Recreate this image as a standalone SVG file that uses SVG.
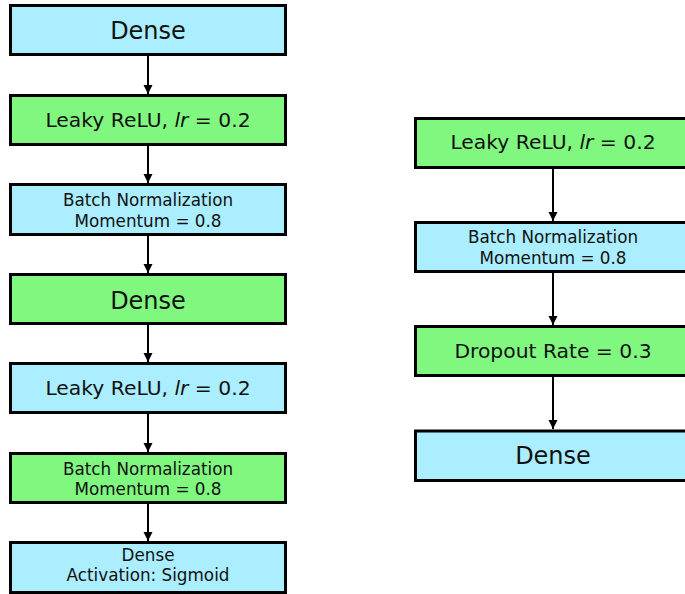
<svg xmlns="http://www.w3.org/2000/svg" width="685" height="594" viewBox="0 0 685 594">
  <style>
    .box { stroke: #000; stroke-width: 3; }
    .blue { fill: #aaeeff; }
    .green { fill: #80f880; }
    text { font-family: "DejaVu Sans", "Liberation Sans", sans-serif; fill: #111; text-anchor: middle; }
    .big { font-size: 24px; }
    .mid { font-size: 20.3px; }
    .small { font-size: 16.8px; }
    .conn { stroke: #000; stroke-width: 2; fill: none; marker-end: url(#arrow); }
  </style>
  <defs>
    <marker id="arrow" markerWidth="10" markerHeight="10" refX="9" refY="4.5" orient="auto" markerUnits="userSpaceOnUse">
      <path d="M0,0 L9,4.5 L0,9 Z" fill="#000"/>
    </marker>
  </defs>

  <rect width="685" height="594" fill="#fff"/>

  <!-- connectors -->
  <g id="connectors">
    <line class="conn" x1="148" y1="56" x2="148" y2="94"/>
    <line class="conn" x1="148" y1="146" x2="148" y2="183"/>
    <line class="conn" x1="148" y1="235" x2="148" y2="273"/>
    <line class="conn" x1="148" y1="325" x2="148" y2="362"/>
    <line class="conn" x1="148" y1="414" x2="148" y2="452"/>
    <line class="conn" x1="148" y1="504" x2="148" y2="541"/>
    <line class="conn" x1="553" y1="168" x2="553" y2="221"/>
    <line class="conn" x1="553" y1="273" x2="553" y2="325"/>
    <line class="conn" x1="553" y1="377" x2="553" y2="429"/>
  </g>

  <!-- left column -->
  <g id="dense1">
    <rect class="box blue" x="10.5" y="5.5" width="275" height="49"/>
    <text class="big" x="148" y="39">Dense</text>
  </g>
  <g id="leaky1">
    <rect class="box green" x="10.5" y="95.5" width="275" height="49"/>
    <text class="mid" x="148" y="127">Leaky ReLU, <tspan font-style="italic">lr</tspan> = 0.2</text>
  </g>
  <g id="bn1">
    <rect class="box blue" x="10.5" y="184.5" width="275" height="50"/>
    <text class="small" x="148" y="205.5">Batch Normalization</text>
    <text class="small" x="148" y="226.5">Momentum = 0.8</text>
  </g>
  <g id="dense2">
    <rect class="box green" x="10.5" y="274.5" width="275" height="49"/>
    <text class="big" x="148" y="308.5">Dense</text>
  </g>
  <g id="leaky2">
    <rect class="box blue" x="10.5" y="363.5" width="275" height="49"/>
    <text class="mid" x="148" y="395">Leaky ReLU, <tspan font-style="italic">lr</tspan> = 0.2</text>
  </g>
  <g id="bn2">
    <rect class="box green" x="10.5" y="453.5" width="275" height="49"/>
    <text class="small" x="148" y="474.5">Batch Normalization</text>
    <text class="small" x="148" y="495">Momentum = 0.8</text>
  </g>
  <g id="dense-out">
    <rect class="box blue" x="10.5" y="542.5" width="275" height="50"/>
    <text class="small" x="148" y="560.5">Dense</text>
    <text class="small" x="148" y="581">Activation: Sigmoid</text>
  </g>

  <!-- right column -->
  <g id="leaky3">
    <rect class="box green" x="415.5" y="118.5" width="275" height="49"/>
    <text class="mid" x="553" y="148.5">Leaky ReLU, <tspan font-style="italic">lr</tspan> = 0.2</text>
  </g>
  <g id="bn3">
    <rect class="box blue" x="415.5" y="222.5" width="275" height="49"/>
    <text class="small" x="553" y="243">Batch Normalization</text>
    <text class="small" x="553" y="264">Momentum = 0.8</text>
  </g>
  <g id="dropout">
    <rect class="box green" x="415.5" y="326.5" width="275" height="49"/>
    <text class="mid" x="553" y="357.5">Dropout Rate = 0.3</text>
  </g>
  <g id="dense3">
    <rect class="box blue" x="415.5" y="431" width="275" height="49.5"/>
    <text class="big" x="553" y="464">Dense</text>
  </g>
</svg>
